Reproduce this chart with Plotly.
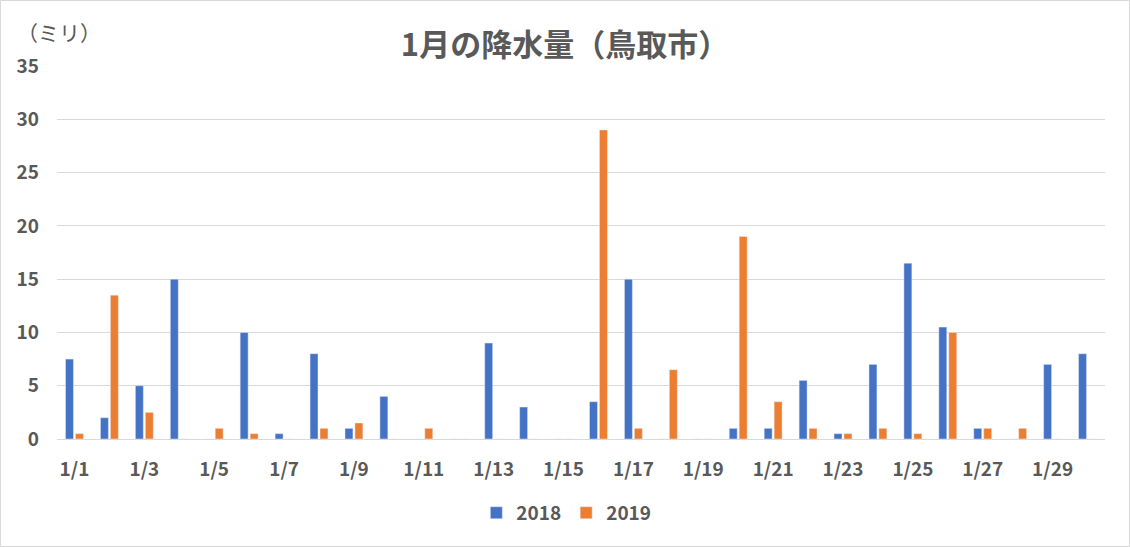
import plotly.graph_objects as go

dates = [f"1/{d}" for d in range(1, 31)]
rain_2018 = [7.5, 2, 5, 15, 0, 10, 0.5, 8, 1, 4, 0, 0, 9, 3, 0, 3.5, 15, 0, 0, 1,
             1, 5.5, 0.5, 7, 16.5, 10.5, 1, 0, 7, 8]
rain_2019 = [0.5, 13.5, 2.5, 0, 1, 0.5, 0, 1, 1.5, 0, 1, 0, 0, 0, 0, 29, 1, 6.5, 0, 19,
             3.5, 1, 0.5, 1, 0.5, 10, 1, 1, 0, 0]
tick_labels = dates[::2]
y_ticks = list(range(0, 36, 5))

FONT = "Noto Sans CJK JP, Liberation Sans, sans-serif"
GRAY = "#595959"

fig = go.Figure()
fig.add_trace(go.Bar(x=dates, y=rain_2018, name="<b>2018</b>", marker_color="#4472C4"))
fig.add_trace(go.Bar(x=dates, y=rain_2019, name="<b>2019</b>", marker_color="#ED7D31"))

fig.update_layout(
    width=1130, height=547,
    margin=dict(l=57, r=25, t=66, b=108),
    paper_bgcolor="white", plot_bgcolor="white",
    barmode="group", bargap=0.43, bargroupgap=0.2,
    font=dict(family=FONT, color=GRAY, size=19),
    title=dict(text="<b>1月の降水量（鳥取市）</b>", x=0.5, xanchor="center",
               y=0.918, yanchor="middle",
               font=dict(family=FONT, size=31, color=GRAY)),
    legend=dict(orientation="h", x=0.486, xanchor="center", y=-0.198, yanchor="middle",
                font=dict(family=FONT, size=19, color=GRAY), itemwidth=30,
                traceorder="normal"),
    xaxis=dict(type="category", tickmode="array", tickvals=tick_labels,
               ticktext=[f"<b>{t}</b>" for t in tick_labels],
               showline=True, linecolor="#D9D9D9", linewidth=1, ticks="",
               ticklabelstandoff=13,
               tickfont=dict(family=FONT, size=19, color=GRAY), showgrid=False),
    yaxis=dict(range=[0, 35], showgrid=True, gridcolor="#D9D9D9",
               zeroline=False, ticks="", ticklabelstandoff=17,
               tickmode="array", tickvals=y_ticks,
               ticktext=[f"<b>{v}</b>" for v in y_ticks],
               tickfont=dict(family=FONT, size=19, color=GRAY)),
    annotations=[dict(text="（ミリ）", xref="paper", yref="paper",
                      x=-0.04, y=1.091, xanchor="left", yanchor="middle",
                      showarrow=False, font=dict(family=FONT, size=21, color=GRAY))],
    shapes=[dict(type="rect", xref="paper", yref="paper",
                 x0=-56.5/1048, x1=1+24.5/1048, y0=-107.5/373, y1=1+65.5/373,
                 line=dict(color="#D9D9D9", width=1))],
)

fig.write_html("out.html", config={"displayModeBar": False},
               post_script="document.body.style.margin='0';")
